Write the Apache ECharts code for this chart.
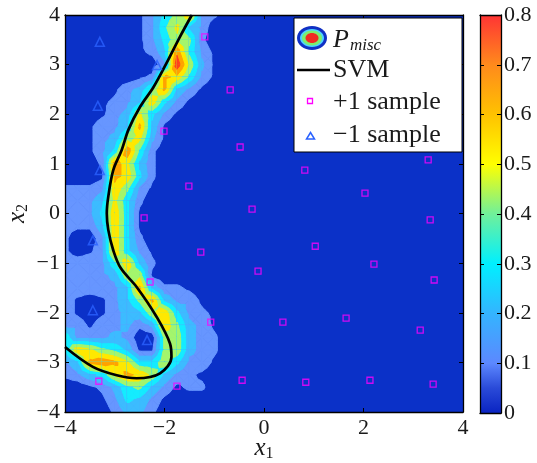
<!DOCTYPE html>
<html>
<head>
<meta charset="utf-8">
<style>
  html, body { margin: 0; padding: 0; background: #fff; }
  #chart { width: 537px; height: 463px; }
</style>
<script src="https://cdn.jsdelivr.net/npm/echarts@6/dist/echarts.min.js"></script>
</head>
<body>
<div id="chart"></div>
<script>
// P_misc on a 0.25 grid: rows go from x2 = 4 (top) down to x2 = -4,
// columns from x1 = -4 to x1 = 4. One char per node, value ~ (code + 0.5) * 0.05
// with codes 0-9, then a = 10 ... g = 16.
const pmiscRows = [
  '0000001368b320000' + '0000000000000000',
  '000000137a5300000' + '0000000000000000',
  '00000013698200000' + '0000000000000000',
  '000000125d7310000' + '0000000000000000',
  '000000003f9410000' + '0000000000000000',
  '00000012cb7310000' + '0000000000000000',
  '00001348c53100000' + '0000000000000000',
  '0001235b631000000' + '0000000000000000',
  '000134a6310000000' + '0000000000000000',
  '001335c5100000000' + '0000000000000000',
  '001349a4100000000' + '0000000000000000',
  '00136d72000000000' + '0000000000000000',
  '0002da52000000000' + '0000000000000000',
  '0001cb62000000000' + '0000000000000000',
  '2223b831000000000' + '0000000000000000',
  '3335a620000000000' + '0000000000000000',
  '3336b610000000000' + '0000000000000000',
  '2225b610000000000' + '0000000000000000',
  '2003b620000000000' + '0000000000000000',
  '2013b631000000000' + '0000000000000000',
  '33337b52000000000' + '0000000000000000',
  '33334991000000000' + '0000000000000000',
  '333335c5221000000' + '0000000000000000',
  '3101358c533100000' + '0000000000000000',
  '31013459b63210000' + '0000000000000000',
  '33133424b84310000' + '0000000000000000',
  '73334300894320000' + '0000000000000000',
  '6ba87511894320000' + '0000000000000000',
  '35cdca66963310000' + '0000000000000000',
  '2356acb9532100000' + '0000000000000000',
  '00124785312200000' + '0000000000000000',
  '00013653100000000' + '0000000000000000',
  '00002442000000000' + '0000000000000000'
];

// SVM decision boundary, traced from top to the left edge
const svmLine = [
  [-1.45, 4.0], [-1.69, 3.56], [-1.96, 3.03], [-2.22, 2.55], [-2.49, 2.15],
  [-2.72, 1.7], [-2.86, 1.28], [-3.03, 0.875], [-3.13, 0.34], [-3.16, 0.0],
  [-3.13, -0.33], [-3.03, -0.74], [-2.88, -1.1], [-2.56, -1.48], [-2.16, -2.08],
  [-1.89, -2.62], [-1.86, -2.89], [-2.09, -3.22], [-2.56, -3.32], [-2.96, -3.26],
  [-3.44, -3.09], [-4.0, -2.69]
];

const plusSamples = [
  [-1.19, 3.56], [-0.68, 2.49], [-2.01, 1.66], [-0.48, 1.34], [0.82, 0.875],
  [3.30, 1.08], [-1.51, 0.55], [2.03, 0.41], [-0.24, 0.09], [-2.41, -0.09],
  [3.34, -0.13], [1.03, -0.66], [-1.27, -0.78], [2.21, -1.02], [-0.12, -1.16],
  [-2.29, -1.38], [3.42, -1.34], [1.65, -2.11], [-1.07, -2.19], [0.38, -2.19],
  [3.14, -2.35], [-3.32, -3.38], [-1.75, -3.48], [-0.44, -3.36], [0.84, -3.40],
  [2.13, -3.36], [3.40, -3.44]
];

const minusSamples = [
  [-3.30, 3.46], [-2.15, 2.99], [-3.34, 2.17], [-3.30, 0.875],
  [-3.44, -0.54], [-3.44, -1.95], [-2.35, -2.55]
];

const colorbarMax = [0.8];

// contour levels 0.1 ... 0.7 expressed in codes, one fill colour per band
const levels = [-1, 1.5, 3.5, 5.5, 7.5, 9.5, 11.5, 13.5];
const bandColors = ['#0b31c8', '#6796ff', '#3cbcff', '#14ecff', '#a4f56c', '#ffe800', '#ffa200', '#ff3f1e'];

const X_MIN = -4, Y_MAX = 4, STEP = 0.25;
const SERIF = '"Liberation Serif", "DejaVu Serif", serif';

const field = pmiscRows.map(r => r.split('').map(c => parseInt(c, 36)));
const cells = [];
for (let j = 0; j < field.length - 1; j++) {
  for (let i = 0; i < field[j].length - 1; i++) {
    cells.push([X_MIN + (i + 0.5) * STEP, Y_MAX - (j + 0.5) * STEP, i, j]);
  }
}

// keep the part of a triangle where the value is >= t
function clipPoly(poly, t) {
  const out = [];
  for (let k = 0; k < poly.length; k++) {
    const a = poly[k], b = poly[(k + 1) % poly.length];
    const ina = a[2] >= t, inb = b[2] >= t;
    if (ina) out.push(a);
    if (ina !== inb) {
      const r = (t - a[2]) / (b[2] - a[2]);
      out.push([a[0] + r * (b[0] - a[0]), a[1] + r * (b[1] - a[1]), t]);
    }
  }
  return out;
}

function renderCell(params, api) {
  const i = api.value(2), j = api.value(3);
  const x0 = X_MIN + i * STEP, x1 = x0 + STEP;
  const y0 = Y_MAX - j * STEP, y1 = y0 - STEP;
  const tl = [x0, y0, field[j][i]], tr = [x1, y0, field[j][i + 1]];
  const bl = [x0, y1, field[j + 1][i]], br = [x1, y1, field[j + 1][i + 1]];
  const c = [(x0 + x1) / 2, (y0 + y1) / 2, (tl[2] + tr[2] + bl[2] + br[2]) / 4];
  const tris = [[tl, tr, c], [tr, br, c], [br, bl, c], [bl, tl, c]];
  const children = [];
  levels.forEach((t, k) => {
    if (k === 0) return; // lowest band is the grid background
    tris.forEach(tri => {
      const poly = clipPoly(tri, t);
      if (poly.length < 3) return;
      children.push({
        type: 'polygon',
        shape: { points: poly.map(p => api.coord([p[0], p[1]])) },
        style: { fill: bandColors[k], stroke: bandColors[k], lineWidth: 1 }
      });
    });
  });
  return { type: 'group', children };
}

const minus = v => String(v).replace('-', '\u2212');
const tickLabel = { fontFamily: SERIF, fontSize: 22, color: '#1a1a1a' };
const tickInside = { show: true, inside: true, length: 4, lineStyle: { color: '#000', width: 1 } };
const boxLine = { show: true, onZero: false, lineStyle: { color: '#000', width: 1.3 } };
const nameRich = {
  i: { fontFamily: SERIF, fontStyle: 'italic', fontSize: 25, color: '#1a1a1a' },
  s: { fontFamily: SERIF, fontSize: 16, color: '#1a1a1a', padding: [12, 0, 0, 0] }
};

const legendItems = [
  { type: 'rect', shape: { x: 294, y: 18, width: 168, height: 134 },
    style: { fill: '#fff', stroke: '#000', lineWidth: 1 } },
  { type: 'ellipse', shape: { cx: 312, cy: 38, rx: 15, ry: 12 }, style: { fill: '#1030c4' } },
  { type: 'ellipse', shape: { cx: 312, cy: 38, rx: 12, ry: 9 }, style: { fill: '#4ed2ff' } },
  { type: 'ellipse', shape: { cx: 312, cy: 38, rx: 10, ry: 7.5 }, style: { fill: '#7cee6e' } },
  { type: 'ellipse', shape: { cx: 312, cy: 38, rx: 6.5, ry: 5 }, style: { fill: '#f22a22' } },
  { type: 'text', style: {
      x: 333, y: 40, verticalAlign: 'middle', text: '{p|P}{s|misc}',
      rich: {
        p: { fontFamily: SERIF, fontStyle: 'italic', fontSize: 26, fill: '#1a1a1a' },
        s: { fontFamily: SERIF, fontStyle: 'italic', fontSize: 17, fill: '#1a1a1a', padding: [12, 0, 0, 1] }
      } } },
  { type: 'line', shape: { x1: 297, y1: 70, x2: 330, y2: 70 }, style: { stroke: '#000', lineWidth: 2.6 } },
  { type: 'text', style: { x: 333, y: 70, verticalAlign: 'middle', text: 'SVM',
      font: '26px ' + SERIF, fill: '#1a1a1a' } },
  { type: 'rect', shape: { x: 307.5, y: 98.5, width: 5, height: 5 },
    style: { fill: 'none', stroke: '#ff00ff', lineWidth: 1.3 } },
  { type: 'text', style: { x: 333, y: 102, verticalAlign: 'middle', text: '+1 sample',
      font: '26px ' + SERIF, fill: '#1a1a1a' } },
  { type: 'polygon', shape: { points: [[310.5, 132.5], [314.5, 139], [306.5, 139]] },
    style: { fill: 'none', stroke: '#2a62ff', lineWidth: 1.5 } },
  { type: 'text', style: { x: 333, y: 135, verticalAlign: 'middle', text: '\u22121 sample',
      font: '26px ' + SERIF, fill: '#1a1a1a' } }
].map((el, k) => Object.assign({ z: 100 + k, zlevel: 1 }, el));

const chart = echarts.init(document.getElementById('chart'));
chart.setOption({
  animation: false,
  grid: [
    { left: 65, top: 15, width: 398, height: 397, outerBoundsMode: 'none', containLabel: false,
      show: true, backgroundColor: bandColors[0], borderWidth: 0 },
    { left: 480, top: 15, width: 21, height: 398, outerBoundsMode: 'none', containLabel: false }
  ],
  xAxis: [
    {
      type: 'value', gridIndex: 0, min: -4, max: 4, interval: 2, position: 'bottom', z: 10,
      axisLine: boxLine, axisTick: tickInside, splitLine: { show: false },
      axisLabel: Object.assign({ margin: 5, formatter: minus }, tickLabel),
      name: '{i|x}{s|1}', nameLocation: 'middle', nameGap: 22, nameMoveOverlap: false,
      nameTextStyle: { rich: nameRich }
    },
    {
      type: 'value', gridIndex: 0, min: -4, max: 4, interval: 2, position: 'top', z: 10,
      axisLine: boxLine, axisTick: tickInside, axisLabel: { show: false }, splitLine: { show: false }
    },
    {
      type: 'category', gridIndex: 1, data: ['c'], position: 'bottom', z: 10,
      axisLine: boxLine, axisTick: { show: false }, axisLabel: { show: false }
    },
    {
      type: 'category', gridIndex: 1, data: ['c'], position: 'top', z: 10,
      axisLine: boxLine, axisTick: { show: false }, axisLabel: { show: false }
    }
  ],
  yAxis: [
    {
      type: 'value', gridIndex: 0, min: -4, max: 4, interval: 1, position: 'left', z: 10,
      axisLine: boxLine, axisTick: tickInside, splitLine: { show: false },
      axisLabel: Object.assign({ margin: 5, formatter: minus }, tickLabel),
      name: '{i|x}{s|2}', nameLocation: 'middle', nameGap: 34, nameMoveOverlap: false,
      nameTextStyle: { rich: nameRich }
    },
    {
      type: 'value', gridIndex: 0, min: -4, max: 4, interval: 1, position: 'right', z: 10,
      axisLine: boxLine, axisTick: tickInside, axisLabel: { show: false }, splitLine: { show: false }
    },
    {
      type: 'value', gridIndex: 1, min: 0, max: 0.8, interval: 0.1, position: 'right', z: 10,
      axisLine: boxLine, axisTick: tickInside, splitLine: { show: false },
      axisLabel: Object.assign({ margin: 3 }, tickLabel)
    },
    {
      type: 'value', gridIndex: 1, min: 0, max: 0.8, interval: 0.1, position: 'left', z: 10,
      axisLine: boxLine, axisTick: tickInside, axisLabel: { show: false }, splitLine: { show: false }
    }
  ],
  series: [
    {
      name: 'P_misc', type: 'custom', xAxisIndex: 0, yAxisIndex: 0,
      data: cells, renderItem: renderCell, clip: true, silent: true, z: 1
    },
    {
      name: 'SVM', type: 'line', xAxisIndex: 0, yAxisIndex: 0, data: svmLine,
      smooth: 0.35, symbol: 'none', clip: true,
      lineStyle: { color: '#000', width: 2.7 }, z: 5
    },
    {
      name: '+1 sample', type: 'scatter', xAxisIndex: 0, yAxisIndex: 0, data: plusSamples,
      symbol: 'rect', symbolSize: 6,
      itemStyle: { color: 'rgba(0,0,0,0)', borderColor: '#ff00ff', borderWidth: 1.3 }, z: 6
    },
    {
      name: '\u22121 sample', type: 'scatter', xAxisIndex: 0, yAxisIndex: 0, data: minusSamples,
      symbol: 'triangle', symbolSize: 9,
      itemStyle: { color: 'rgba(0,0,0,0)', borderColor: '#2a62ff', borderWidth: 1.5 }, z: 6
    },
    {
      name: 'colorbar', type: 'bar', xAxisIndex: 2, yAxisIndex: 2, data: colorbarMax,
      barWidth: '100%', silent: true,
      itemStyle: {
        color: {
          type: 'linear', x: 0, y: 1, x2: 0, y2: 0,
          colorStops: [
            { offset: 0, color: '#0a24c2' },
            { offset: 0.0625, color: '#2a4ad8' },
            { offset: 0.125, color: '#5c88ff' },
            { offset: 0.25, color: '#34b4ff' },
            { offset: 0.375, color: '#00f0ff' },
            { offset: 0.5, color: '#70f09a' },
            { offset: 0.625, color: '#ffff00' },
            { offset: 0.75, color: '#ffc200' },
            { offset: 0.875, color: '#ff8a1c' },
            { offset: 1, color: '#ff3434' }
          ]
        }
      }
    }
  ],
  graphic: legendItems
});
</script>
</body>
</html>
